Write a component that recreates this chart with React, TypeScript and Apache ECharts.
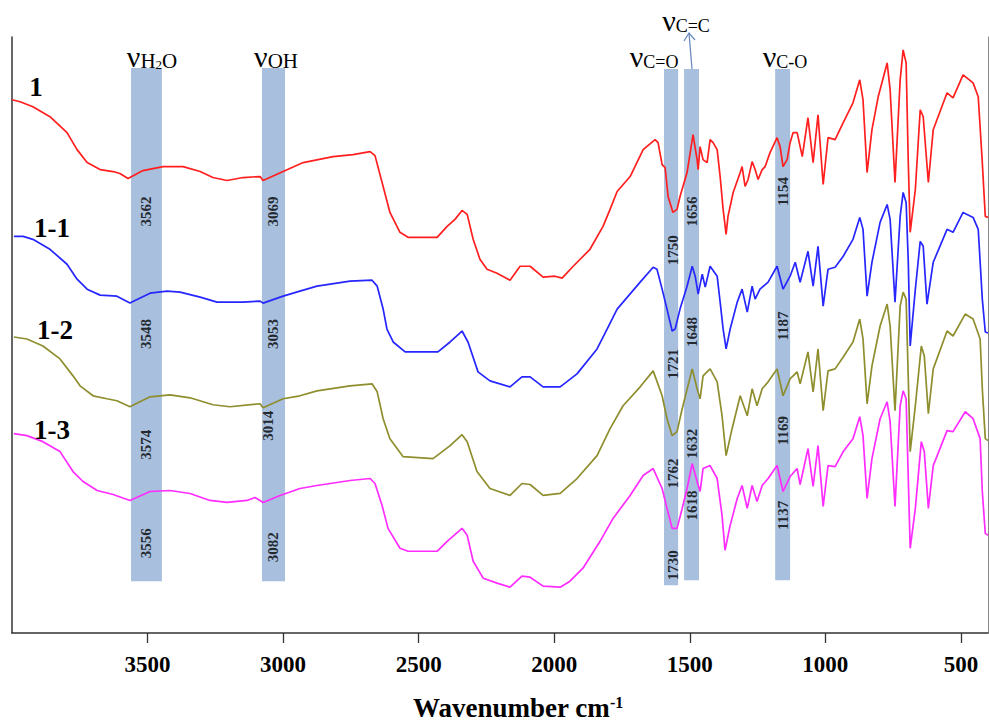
import React, { useEffect, useRef } from 'react';
import * as echarts from 'echarts';

// x: wavenumber (cm-1), y: relative transmittance (a.u.)
const spectrum1: number[][] = [
  [4000,535],[3970,533],[3923,528],[3860,518],[3797,502],[3760,485],[3723,472],[3675,465],[3627,463],[3602,461],
  [3572,456],[3517,464],[3443,468],[3369,468],[3306,463],[3259,457],[3207,454],[3148,457],[3085,458],[3074,454],
  [3000,463],[2926,472],[2816,478],[2742,480],[2679,483],[2661,479],[2631,448],[2606,422],[2569,402],[2539,397],
  [2432,397],[2395,408],[2366,415],[2340,424],[2321,420],[2299,395],[2274,375],[2248,365],[2211,361],[2163,354],
  [2126,368],[2089,368],[2041,357],[1997,358],[1971,356],[1930,368],[1868,385],[1820,408],[1794,425],[1768,443],
  [1720,458],[1672,485],[1628,495],[1617,492],[1602,470],[1591,467],[1580,438],[1562,422],[1547,425],[1536,438],
  [1510,462],[1488,500],[1473,475],[1469,465],[1462,488],[1451,475],[1436,472],[1425,495],[1414,492],[1399,485],
  [1388,458],[1377,425],[1366,400],[1359,418],[1340,442],[1314,462],[1307,468],[1296,448],[1285,455],[1270,473],
  [1259,465],[1248,455],[1233,465],[1222,468],[1204,482],[1178,497],[1167,488],[1156,468],[1141,475],[1130,492],
  [1119,502],[1104,502],[1085,478],[1064,517],[1045,472],[1027,520],[1008,450],[990,497],[964,495],[934,512],
  [898,532],[873,555],[861,535],[846,462],[828,505],[805,538],[772,572],[761,545],[743,452],[724,555],
  [713,585],[702,572],[694,472],[687,402],[668,445],[650,525],[639,518],[620,452],[602,505],[551,542],
  [529,537],[492,560],[455,552],[436,538],[421,472],[410,418],[400,417]
];

const spectrum1_1: number[][] = [
  [3993,398],[3959,398],[3923,395],[3860,385],[3797,370],[3760,355],[3723,345],[3675,339],[3613,338],[3565,331],
  [3491,341],[3428,343],[3380,342],[3306,337],[3244,332],[3148,332],[3085,333],[3074,331],[3000,338],[2938,343],
  [2875,348],[2753,353],[2672,354],[2653,348],[2631,325],[2617,305],[2594,292],[2550,282],[2429,282],[2384,292],
  [2340,303],[2318,292],[2281,262],[2237,253],[2163,247],[2119,257],[2089,257],[2041,247],[1978,247],[1916,260],
  [1842,285],[1805,305],[1768,325],[1683,352],[1635,367],[1621,365],[1602,345],[1584,325],[1565,303],[1554,305],
  [1536,325],[1510,348],[1491,368],[1480,358],[1469,340],[1454,360],[1443,347],[1425,368],[1399,358],[1388,332],
  [1377,305],[1366,285],[1351,305],[1325,332],[1307,345],[1288,322],[1270,348],[1259,335],[1241,345],[1211,352],
  [1178,368],[1156,345],[1130,358],[1111,372],[1093,352],[1064,383],[1045,348],[1027,388],[1008,328],[990,365],
  [964,367],[934,378],[898,395],[873,417],[861,405],[846,338],[828,372],[798,412],[772,430],[761,415],
  [743,332],[724,418],[713,442],[702,432],[694,372],[687,288],[668,345],[650,393],[639,388],[625,330],
  [602,372],[551,405],[529,402],[492,422],[455,417],[436,405],[421,335],[410,302],[400,301]
];

const spectrum1_2: number[][] = [
  [3993,297],[3945,295],[3886,288],[3823,275],[3775,258],[3749,248],[3701,238],[3650,235],[3613,233],[3565,227],
  [3491,237],[3417,239],[3343,236],[3259,229],[3196,227],[3085,230],[3074,226],[3000,235],[2938,238],[2875,243],
  [2753,248],[2672,250],[2653,242],[2631,215],[2606,195],[2558,177],[2447,175],[2384,188],[2340,199],[2321,192],
  [2285,162],[2237,145],[2163,138],[2119,150],[2089,149],[2041,138],[1978,140],[1916,155],[1842,178],[1794,205],
  [1746,228],[1683,247],[1635,263],[1602,238],[1584,215],[1565,198],[1547,202],[1528,225],[1491,265],[1473,245],
  [1462,235],[1451,258],[1425,265],[1399,252],[1381,218],[1366,178],[1344,205],[1314,238],[1288,218],[1270,245],
  [1252,228],[1233,245],[1211,252],[1178,265],[1156,238],[1130,255],[1104,262],[1093,250],[1064,282],[1045,242],
  [1027,285],[1008,223],[990,263],[964,265],[934,277],[898,292],[873,315],[861,295],[846,230],[828,268],
  [798,308],[772,330],[761,308],[743,223],[724,328],[713,342],[702,335],[694,255],[687,182],[668,228],
  [646,288],[635,278],[620,220],[602,265],[551,303],[529,298],[484,320],[455,315],[429,295],[421,245],
  [410,195],[400,193]
];

const spectrum1_3: number[][] = [
  [3993,200],[3945,198],[3886,192],[3823,182],[3775,162],[3738,152],[3686,143],[3627,139],[3565,133],[3491,142],
  [3417,143],[3343,140],[3270,133],[3207,131],[3133,133],[3104,136],[3085,133],[3074,131],[3011,138],[2938,145],
  [2875,148],[2753,153],[2679,155],[2661,150],[2635,128],[2613,105],[2569,85],[2539,82],[2432,82],[2395,92],
  [2340,105],[2321,98],[2299,72],[2262,55],[2211,50],[2163,46],[2119,57],[2089,56],[2041,47],[1978,46],
  [1942,52],[1894,65],[1831,92],[1783,115],[1720,138],[1672,158],[1635,165],[1602,145],[1584,125],[1565,105],
  [1547,105],[1528,125],[1510,145],[1491,170],[1473,152],[1462,142],[1451,165],[1425,168],[1399,155],[1381,118],
  [1370,83],[1351,108],[1325,135],[1307,148],[1288,125],[1270,148],[1252,132],[1233,148],[1211,155],[1178,168],
  [1156,142],[1130,157],[1104,165],[1093,149],[1064,185],[1045,147],[1027,188],[1008,127],[990,168],[964,167],
  [934,182],[898,195],[873,217],[861,198],[846,135],[828,175],[798,215],[772,232],[761,212],[743,127],
  [724,228],[713,243],[702,235],[694,155],[687,85],[668,125],[646,192],[635,182],[620,125],[602,168],
  [551,203],[529,202],[484,222],[455,215],[429,195],[421,142],[410,100],[400,98]
];

const seriesNames = ['1', '1-1', '1-2', '1-3'];
const xTicks = [500, 1000, 1500, 2000, 2500, 3000, 3500];

// highlighted bands (wavenumber range, y range)
const bandStart = [3561, 3078, 1595, 1521, 1185];
const bandEnd = [3447, 2993, 1543, 1466, 1130];
const bandLow = [52, 52, 48, 53, 53];
const bandHigh = [567, 567, 566, 566, 566];

// peak labels inside the bands
const peakText = ['3562','3548','3574','3556','3069','3053','3014','3082','1750','1721','1762','1730','1656','1648','1632','1618','1154','1187','1169','1137'];
const peakX = [3504,3504,3504,3504,3037,3037,3056,3037,1562,1562,1562,1562,1491,1491,1491,1491,1156,1156,1156,1156];
const peakY = [423,300,189,90,423,300,208,86,384,270,160,68,423,302,190,128,443,308,203,118];

const colors = ['#ff1f1f', '#2626ff', '#8e8e2e', '#ff2cff'];
const SERIF = '"Liberation Serif", "Times New Roman", serif';

export default function App() {
  const ref = useRef<HTMLDivElement>(null);
  useEffect(() => {
    const chart = echarts.init(ref.current!, null, { renderer: 'svg' });
    const spectra = [spectrum1, spectrum1_1, spectrum1_2, spectrum1_3];
    const lineSeries = spectra.map((d, i) => ({
      type: 'line',
      name: seriesNames[i],
      data: d,
      showSymbol: false,
      symbol: 'none',
      z: 2,
      lineStyle: { color: colors[i], width: 1.7 },
      itemStyle: { color: colors[i] },
    }));
    const bandSeries = {
      type: 'scatter',
      name: 'bands',
      z: 4,
      symbolSize: 0,
      silent: true,
      data: peakText.map((t, i) => ({ name: t, value: [peakX[i], peakY[i]] })),
      label: {
        show: true,
        position: 'inside',
        formatter: '{b}',
        rotate: 90,
        fontFamily: SERIF,
        fontWeight: 'bold',
        fontSize: 15,
        color: '#000',
      },
      markArea: {
        silent: true,
        label: { show: false },
        itemStyle: { color: 'rgba(146,175,213,0.8)' },
        data: bandStart.map((s, i) => [
          { xAxis: s, yAxis: bandLow[i] },
          { xAxis: bandEnd[i], yAxis: bandHigh[i] },
        ]),
      },
    };

    const nuRich = (big: number, small: number) => ({
      n: { fontSize: big, fontFamily: SERIF, fill: '#000', color: '#000', verticalAlign: 'bottom' },
      s: { fontSize: small, fontFamily: SERIF, fill: '#000', color: '#000', verticalAlign: 'bottom' },
      sub: { fontSize: 13, fontFamily: SERIF, fill: '#000', color: '#000', verticalAlign: 'bottom' },
    });
    const topLabel = (text: string, x: number, y: number, small: number) => ({
      type: 'text',
      x, y,
      z: 10,
      style: {
        text,
        rich: nuRich(30, small),
        align: 'center',
        verticalAlign: 'bottom',
        fill: '#000',
      },
    });
    const seriesLabel = (text: string, x: number, y: number) => ({
      type: 'text',
      x, y, z: 10,
      style: {
        text,
        font: `bold 27px ${SERIF}`,
        fill: '#000',
        align: 'center',
        verticalAlign: 'middle',
      },
    });

    chart.setOption({
      animation: false,
      backgroundColor: '#fff',
      grid: { left: 12, right: 1, top: 37, bottom: 91, containLabel: false },
      xAxis: {
        type: 'value',
        min: 400,
        max: 4000,
        inverse: true,
        splitLine: { show: false },
        axisLine: { show: true, lineStyle: { color: '#333', width: 1.5 } },
        axisTick: { show: true, customValues: xTicks, length: 10, lineStyle: { color: '#333', width: 1.3 } },
        axisLabel: {
          customValues: xTicks,
          formatter: (v: number) => String(v),
          fontFamily: SERIF,
          fontWeight: 'bold',
          fontSize: 23,
          color: '#000',
          margin: 20,
        },
        name: '{a|Wavenumber cm}{b|-1}',
        nameLocation: 'middle',
        nameGap: 61,
        nameTextStyle: {
          padding: [0, 0, 0, 36],
          rich: {
            a: { fontFamily: SERIF, fontWeight: 'bold', fontSize: 27, color: '#000', verticalAlign: 'bottom' },
            b: { fontFamily: SERIF, fontWeight: 'bold', fontSize: 16, color: '#000', verticalAlign: 'top' },
          },
        },
      },
      yAxis: [
        {
          type: 'value', min: 0, max: 598, position: 'left',
          splitLine: { show: false }, axisTick: { show: false }, axisLabel: { show: false },
          axisLine: { show: true, lineStyle: { color: '#333', width: 1.5 } },
        },
        {
          type: 'value', min: 0, max: 598, position: 'right',
          splitLine: { show: false }, axisTick: { show: false }, axisLabel: { show: false },
          axisLine: { show: true, lineStyle: { color: '#888', width: 1 } },
        },
      ],
      series: [...lineSeries, bandSeries],
      graphic: [
        topLabel('{n|ν}{s|H}{sub|2}{s|O}', 152, 71, 21),
        topLabel('{n|ν}{s|OH}', 276, 71, 21),
        topLabel('{n|ν}{s|C=O}', 654, 71, 18),
        topLabel('{n|ν}{s|C=C}', 686, 35, 18),
        topLabel('{n|ν}{s|C-O}', 785, 71, 18),
        {
          type: 'line', z: 10,
          shape: { x1: 692, y1: 69, x2: 689, y2: 33 },
          style: { stroke: '#6a8cc0', lineWidth: 1.3 },
        },
        {
          type: 'polyline', z: 10,
          shape: { points: [[684, 41], [689, 33], [695, 40]] },
          style: { stroke: '#6a8cc0', lineWidth: 1.3, fill: 'none' },
        },
        seriesLabel(seriesNames[0], 36, 87),
        seriesLabel(seriesNames[1], 52, 228),
        seriesLabel(seriesNames[2], 55, 330),
        seriesLabel(seriesNames[3], 52, 430),
      ],
    });
    return () => chart.dispose();
  }, []);
  return (
    <div
      ref={ref}
      style={{ position: 'fixed', left: 0, top: 0, width: 989, height: 726, background: '#fff' }}
    />
  );
}
